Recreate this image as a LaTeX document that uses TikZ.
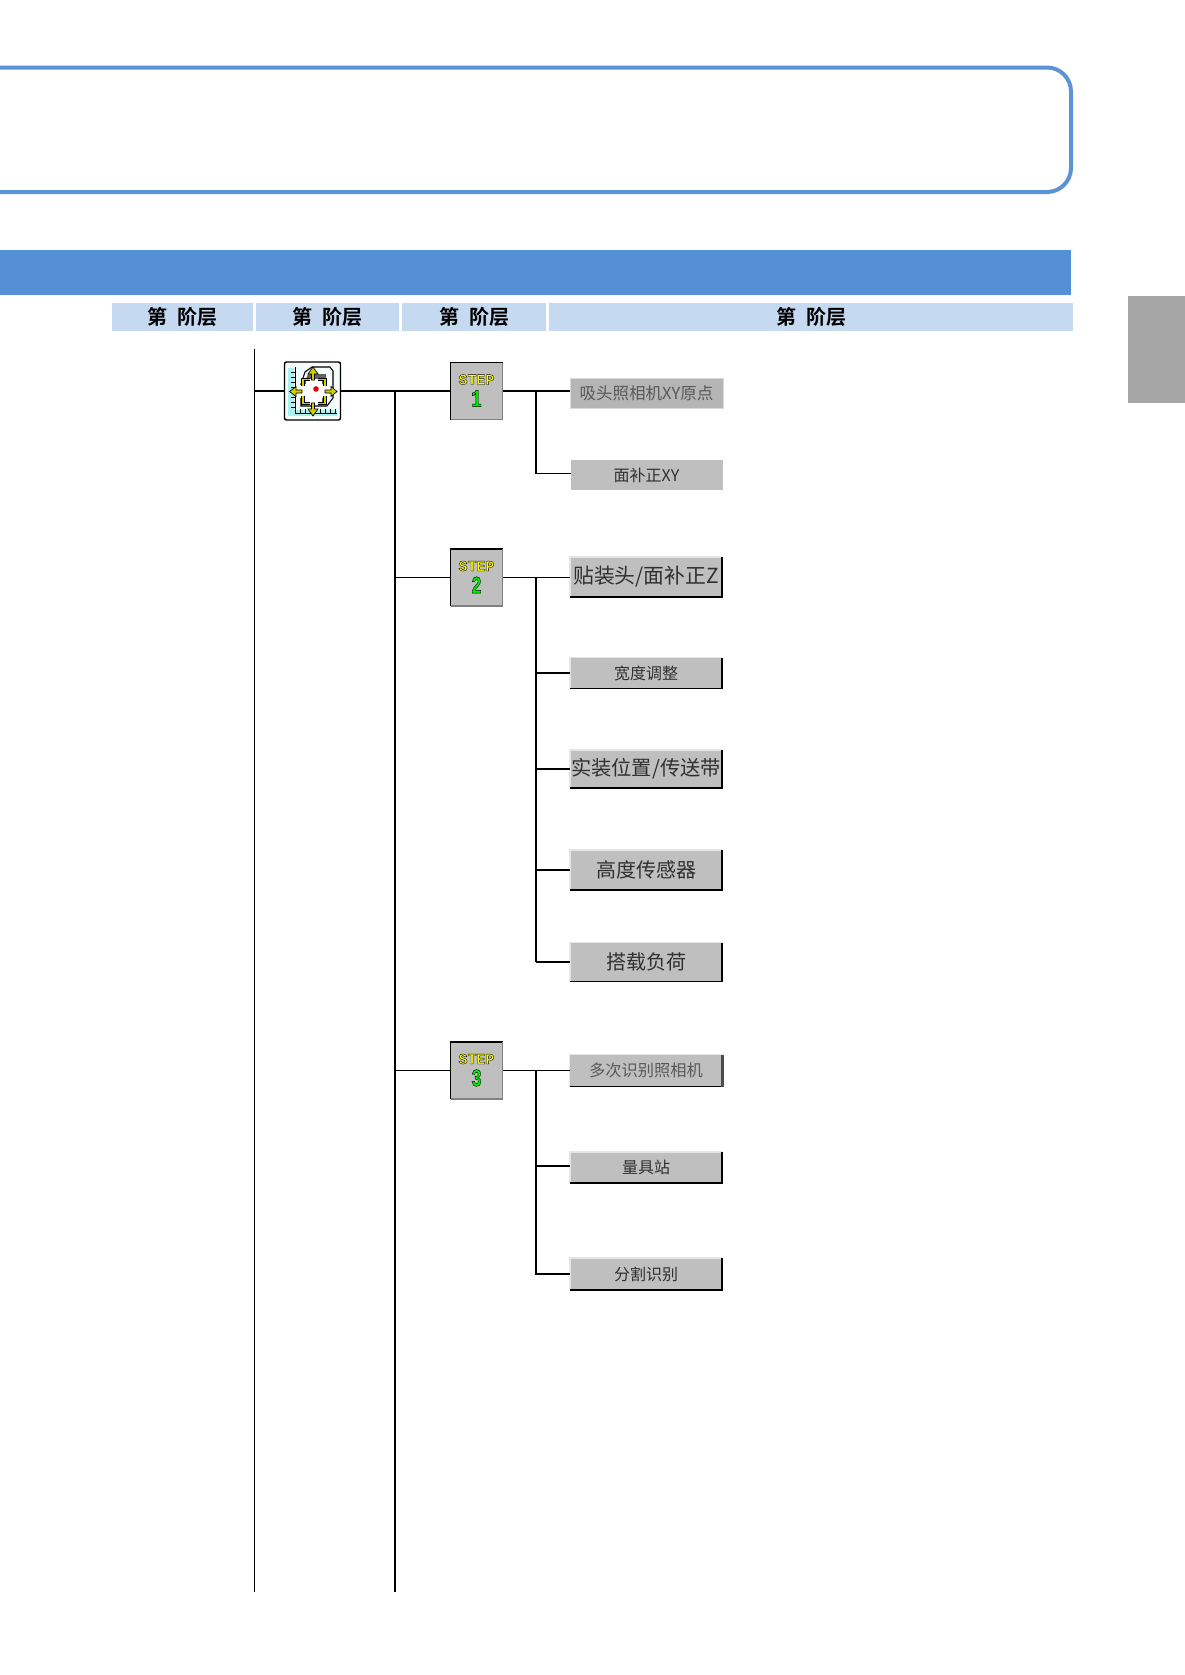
\documentclass[tikz,border=0pt]{standalone}
\usepackage{fontspec}
\newfontfamily\cjk[BoldFont=* Bold]{Noto Sans CJK SC}
\newfontfamily\stepfont[BoldFont=* Bold]{Liberation Mono}
\definecolor{framebl}{HTML}{5B93D6}
\definecolor{bandbl}{HTML}{5590D6}
\definecolor{headbl}{HTML}{C5D9F1}
\definecolor{tabgr}{HTML}{A6A6A6}
\definecolor{btngr}{HTML}{BFBFBF}
\definecolor{btntx}{HTML}{303030}
\definecolor{iconcy}{HTML}{A9F1F1}
\definecolor{iconbg}{HTML}{F4FBFB}
\definecolor{iconyl}{HTML}{D0D000}
\definecolor{stepgn}{HTML}{00F000}
\definecolor{stepyl}{HTML}{FFFF00}
\newcommand{\outl}[1]{\special{pdf:code 2 Tr #1 w 0 0 0 RG}}
\newcommand{\outlend}{\special{pdf:code 0 Tr}}
\tikzset{
  x=0.75pt,y=-0.75pt,
  px/.style={inner sep=0pt,outer sep=0pt},
  sz/.style 2 args={minimum width=#1*0.75pt,minimum height=#2*0.75pt},
  headcell/.style={px,fill=headbl,font=\cjk\bfseries\fontsize{15}{16}\selectfont,text=black},
  btn/.style={px,fill=btngr,text=btntx,font=\cjk\fontsize{12}{13}\selectfont},
  stepbox/.style={px,fill=btngr,sz={52}{57}},
  wire/.style={black,line width=1.3pt},
  thin wire/.style={black,line width=0.9pt},
  bevlight/.style={line width=1pt,draw=white!90!black},
  bevdark/.style={line width=1.2pt,draw=black},
  ticks/.style={black,line width=0.6pt},
  yarrow/.style={draw=black,line width=0.5pt,fill=iconyl},
}
\newcommand{\bevel}[1]{%
  \draw[bevlight] (#1.south west)--(#1.north west)--(#1.north east);
  \draw[bevdark] (#1.south west)--(#1.south east)--(#1.north east);}
\newcommand{\stepedge}[1]{%
  \draw[black,line width=1pt] (#1.south west)--(#1.north west)--(#1.north east);
  \draw[black!50,line width=1pt] (#1.south west)--(#1.south east)--(#1.north east);}
\newcommand{\stepmark}[3]{%
  \node[px,font=\stepfont\bfseries\fontsize{11.2}{12}\selectfont,text=stepyl] (#1l) at ([yshift=8.6pt]#2.center) {\outl{0.28}STEP\outlend};
  \node[px,font=\stepfont\bfseries\fontsize{18.5}{19}\selectfont,text=stepgn,xscale=0.72] (#1n) at ([yshift=-5.6pt]#2.center) {\outl{0.35}#3\outlend};}
\begin{document}
\begin{tikzpicture}
\useasboundingbox (0,0) rectangle (1185,1675);
% frame
\draw[framebl,line width=3pt,rounded corners=18pt] (0,67.5)--(1071,67.5)--(1071,192)--(0,192);
% band, tab
\node[px,fill=bandbl,sz={1071}{45},anchor=north west] (band) at (0,250) {};
\node[px,fill=tabgr,sz={57}{107},anchor=north west] (tab) at (1128,296) {};
% header
\node[headcell,sz={141}{28},anchor=north west] (h1) at (112,303) {第\hspace{7.5pt}阶层};
\node[headcell,sz={143}{28},anchor=north west] (h2) at (256,303) {第\hspace{7.5pt}阶层};
\node[headcell,sz={144}{28},anchor=north west] (h3) at (402,303) {第\hspace{7.5pt}阶层};
\node[headcell,sz={524}{28},anchor=north west] (h4) at (549,303) {第\hspace{7.5pt}阶层};
% icon
\node[px,sz={56}{58},fill=iconbg,draw=black,line width=1.1pt,rounded corners=1.5pt] (icon) at (312.5,391) {};
\fill[iconcy] (288,368) rectangle (294,415);
\fill[iconcy] (288,410) rectangle (337,416);
\draw[ticks] (295,367)--(295,413)--(337,413);
\foreach \t in {372,377,382,387,392,397,402,407}{\draw[ticks] (291,\t)--(295,\t);}
\foreach \t in {300,305,310,315,320,325,330,335}{\draw[ticks] (\t,413)--(\t,409);}
\draw[black,line width=0.8pt,fill=iconbg] (301,384)--(305,372)--(312,367)--(330,367)--(333,371)--(333,398)--(327,406)--(301,406)--cycle;
\fill[black!62] (304,384)--(308,374)--(326,374)--(326,384)--cycle;
\fill[black!62] (322,398) rectangle (326,404);
\fill[white] (306,379) rectangle (322,405);
\fill[white] (298,385) rectangle (330,398);
\draw[black,line width=2.6pt] (303,386)--(303,379.5)--(310,379.5) (318,379.5)--(325,379.5)--(325,386) (325,396)--(325,403.5)--(318,403.5) (310,403.5)--(303,403.5)--(303,396);
\draw[iconyl,line width=1.2pt] (303,386)--(303,379.5)--(310,379.5) (318,379.5)--(325,379.5)--(325,386) (325,396)--(325,403.5)--(318,403.5) (310,403.5)--(303,403.5)--(303,396);
\draw[yarrow] (311.5,380)--(311.5,374)--(308,374)--(313,367)--(318,374)--(314.5,374)--(314.5,380)--cycle;
\draw[yarrow] (311.5,403)--(311.5,409)--(308,409)--(313,416)--(318,409)--(314.5,409)--(314.5,403)--cycle;
\draw[yarrow] (302,390)--(296,390)--(296,386.5)--(289.5,391.5)--(296,396.5)--(296,393)--(302,393)--cycle;
\draw[yarrow] (325,390)--(331,390)--(331,386.5)--(337,391.5)--(331,396.5)--(331,393)--(325,393)--cycle;
\fill[red!90!black] (316,389) circle (2.8);
% steps
\node[stepbox] (s1) at (476.5,391) {};
\node[stepbox] (s2) at (476.5,577.5) {};
\node[stepbox] (s3) at (476.5,1070.5) {};
\stepedge{s1}\stepedge{s2}\stepedge{s3}
\stepmark{sa}{s1}{1}
\stepmark{sb}{s2}{2}
\stepmark{sc}{s3}{3}
% buttons
\node[btn,fill=btngr!95!black,sz={153}{30},draw=white!85!black,line width=0.7pt,font=\cjk\fontsize{12.4}{13}\selectfont] (b1) at (646.5,393) {\textcolor{black!65}{吸头照相机XY原点}};
\node[btn,sz={152}{30}] (b2) at (646.5,475) {面补正XY};
\node[btn,sz={152}{40},font=\cjk\fontsize{15.6}{17}\selectfont] (b3) at (646,577) {贴装头/面补正Z};
\node[btn,sz={152}{31}] (b4) at (646,673) {宽度调整};
\node[btn,sz={152}{38},font=\cjk\fontsize{15.2}{17}\selectfont] (b5) at (646,769) {实装位置/传送带};
\node[btn,sz={152}{40},font=\cjk\fontsize{15}{16}\selectfont] (b6) at (646,870) {高度传感器};
\node[btn,sz={152}{39},font=\cjk\fontsize{15}{16}\selectfont] (b7) at (646,962) {搭载负荷};
\node[btn,sz={153}{32},font=\cjk\fontsize{12.2}{13}\selectfont] (b8) at (646,1070.5) {\textcolor{black!65}{多次识别照相机}};
\node[btn,sz={152}{31}] (b9) at (646,1167.5) {量具站};
\node[btn,sz={152}{32}] (b10) at (646,1274) {分割识别};
\foreach \b in {b3,b4,b5,b6,b7,b8,b9,b10}{\bevel{\b}}
\draw[black!70,line width=2.2pt] (b8.north east)--(b8.south east);
% trunks
\coordinate (t1a) at (254.5,349);
\coordinate (t1b) at (254.5,1592);
\coordinate (t2a) at (395,390.5);
\coordinate (t2b) at (395,1592);
\coordinate (j1) at (536,391);
\coordinate (j2a) at (536,473.5);
\coordinate (j3) at (536,577.5);
\coordinate (j3b) at (536,962);
\coordinate (j4) at (536,1070.5);
\coordinate (j4m) at (536,1166);
\coordinate (j4b) at (536,1274);
\draw[thin wire] (t1a)--(t1b);
\draw[thin wire] (t1a|-icon.west)--(icon.west);
\draw[wire] (icon.east)--(s1.west);
\draw[wire] (t2a)--(t2b);
\draw[wire] (s1.east)--(b1.west|-s1.east);
\draw[thin wire] (j1)--(j2a)--(j2a-|b2.west);
\draw[thin wire] (t2a|-s2.west)--(s2.west);
\draw[wire] (s2.east)--(j3);
\draw[thin wire] (j3)--(b3.west|-j3);
\draw[wire] (j3)--(j3b);
\draw[thin wire] (j3|-b4.west)--(b4.west);
\draw[thin wire] (j3|-b5.west)--(b5.west);
\draw[thin wire] (j3|-b6.west)--(b6.west);
\draw[thin wire] (j3b)--(b7.west);
\draw[thin wire] (t2a|-s3.west)--(s3.west);
\draw[wire] (s3.east)--(b8.west);
\draw[thin wire] (j4)--(j4b)--(j4b-|b10.west);
\draw[thin wire] (j4m)--(j4m-|b9.west);
\end{tikzpicture}
\end{document}
